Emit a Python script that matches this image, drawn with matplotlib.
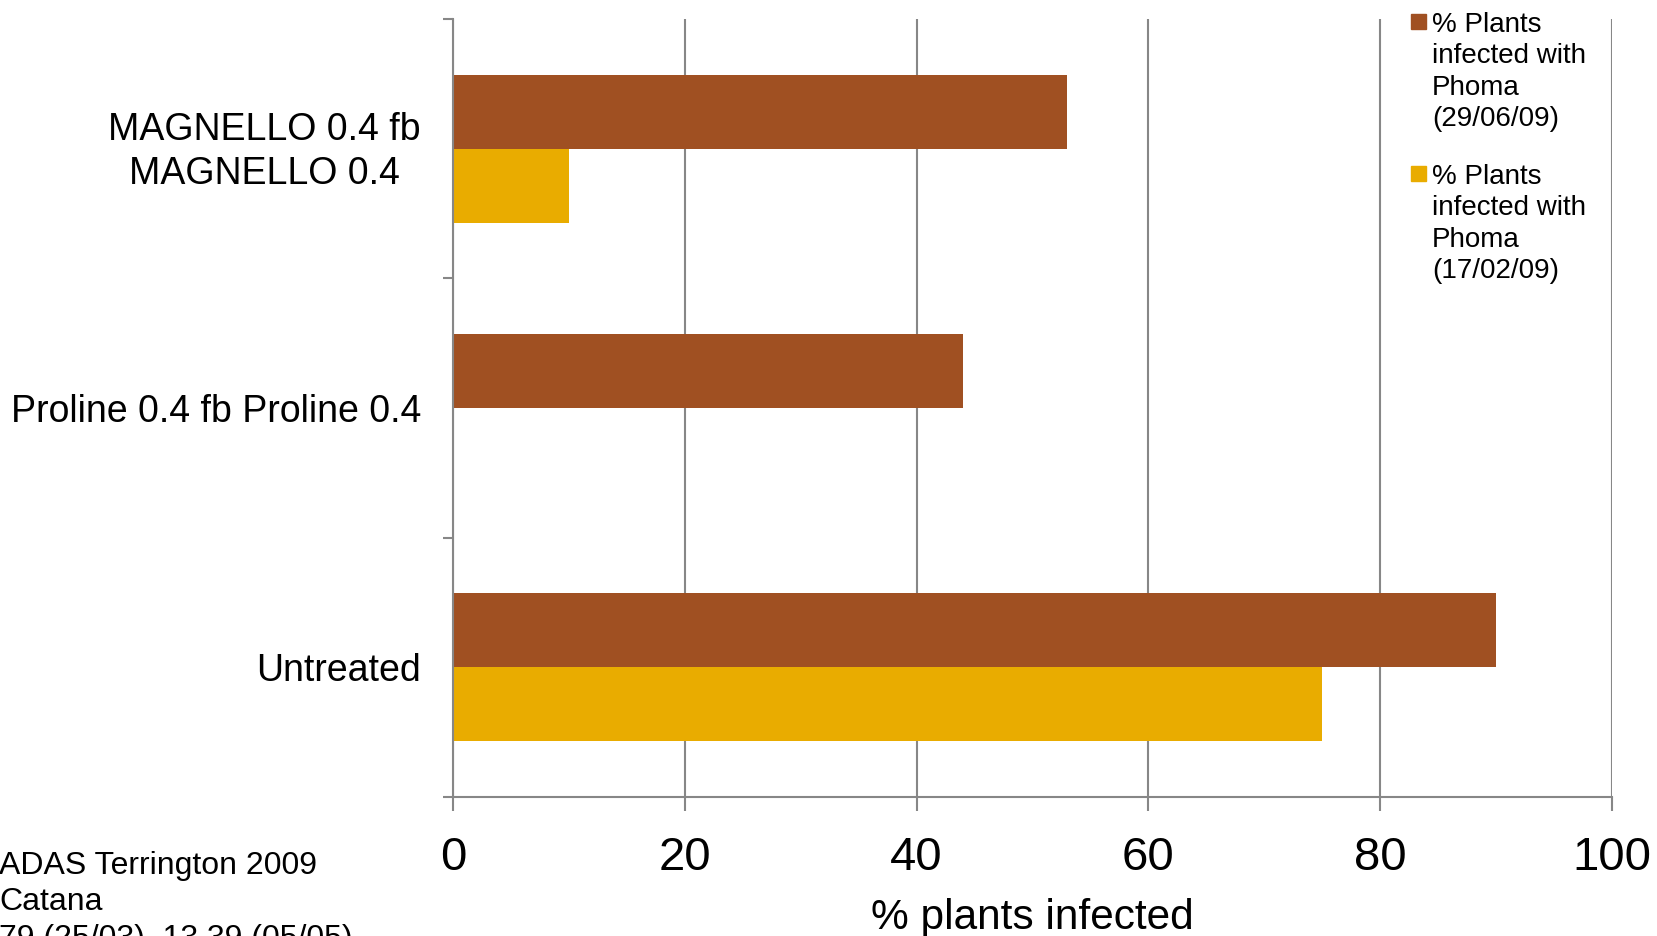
import matplotlib
matplotlib.use("Agg")
import matplotlib.pyplot as plt
from matplotlib.patches import Rectangle
from matplotlib.transforms import offset_copy
import numpy as np

plt.rcParams['font.family'] = ['Liberation Sans', 'DejaVu Sans']

# data (bottom to top as drawn)
categories = ["Untreated", "Proline 0.4 fb Proline 0.4", "MAGNELLO 0.4 fb\nMAGNELLO 0.4"]
phoma_jun = [90, 44, 53]   # % plants infected with Phoma (29/06/09)
phoma_feb = [75, 0, 10]    # % plants infected with Phoma (17/02/09)
series_labels = ["% Plants\ninfected with\nPhoma\n(29/06/09)",
                 "% Plants\ninfected with\nPhoma\n(17/02/09)"]
colors = ["#A05022", "#E9AC00"]
x_ticks = [0, 20, 40, 60, 80, 100]
note = "ADAS Terrington 2009\nCatana\n79 (25/03), 13.39 (05/05)"

W, H = 1657, 936
fig = plt.figure(figsize=(W / 100, H / 100), dpi=100)
ax = fig.add_axes([453 / W, 1 - 797 / H, (1612 - 453) / W, (797 - 19) / H])

y = np.arange(len(categories))
h = 0.2857
ax.barh(y + h / 2, phoma_jun, height=h, color=colors[0], zorder=3)
ax.barh(y - h / 2, phoma_feb, height=h, color=colors[1], zorder=3)

grey = "#878787"
ax.set_xlim(0, 100)
ax.set_ylim(-0.5, len(categories) - 0.5)
ax.set_xticks(x_ticks)
ax.set_xticklabels([str(v) for v in x_ticks], fontsize=34)
ax.set_yticks(y)
ax.set_yticklabels(categories, fontsize=27, multialignment="center", linespacing=1.28)
ax.set_yticks(np.arange(-0.5, len(categories), 1.0), minor=True)
ax.tick_params(axis="y", which="major", length=0, pad=23)
ax.tick_params(axis="y", which="minor", length=7, width=1.5, color=grey, direction="out")
ax.tick_params(axis="x", length=10, width=1.5, color=grey, pad=18)
ax.xaxis.grid(True, color=grey, linewidth=1.5, zorder=0)
for s in ["top", "right"]:
    ax.spines[s].set_visible(False)
for s in ["left", "bottom"]:
    ax.spines[s].set_color(grey)
    ax.spines[s].set_linewidth(1.5)
    ax.spines[s].set_zorder(4)
ax.set_xlabel("% plants infected", fontsize=30.5, labelpad=13)

# nudge the two-line label up a little so its lines centre on the bars
for lbl in ax.get_yticklabels():
    if "\n" in lbl.get_text():
        lbl.set_transform(offset_copy(lbl.get_transform(), fig=fig, y=5, units="dots"))

# legend drawn by hand so the square sits beside the first line
leg_top = [12, 164]
for lab, col, yt in zip(series_labels, colors, leg_top):
    fig.add_artist(Rectangle((1411 / W, 1 - (yt + 17) / H), 15 / W, 15 / H,
                             transform=fig.transFigure, color=col))
    fig.text(1432 / W, 1 - yt / H, lab, fontsize=20, va="top", ha="left",
             linespacing=1.27)

fig.text(-1 / W, 1 - 851 / H, note, fontsize=23, va="top", ha="left",
         linespacing=1.28)

fig.savefig("out.png", dpi=100)
